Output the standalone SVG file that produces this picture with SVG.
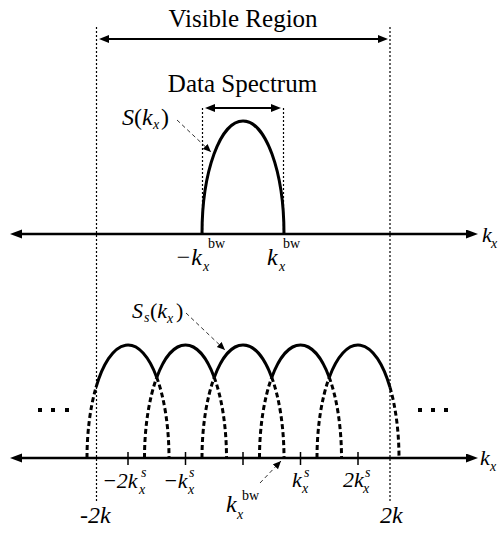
<svg xmlns="http://www.w3.org/2000/svg" width="499" height="533" viewBox="0 0 499 533">
<style>
.bg{fill:#fff}
.axis{stroke:#000;stroke-width:2.5;fill:none}
.dim{stroke:#000;stroke-width:2;fill:none}
.guide{stroke:#000;stroke-width:1.2;stroke-dasharray:2 2;fill:none}
.hump{stroke:#000;stroke-width:3;fill:none}
.hdash{stroke:#000;stroke-width:3;stroke-dasharray:5 3;fill:none}
.tick{stroke:#000;stroke-width:1.5}
.ptr{stroke:#333;stroke-width:1;stroke-dasharray:4 3;fill:none}
text{font-family:'Liberation Serif','Times New Roman',serif;fill:#000}
.title{font-size:25px}
.m{font-style:italic;font-size:22px}
.l{font-size:24px}
.s{font-size:14px}
.up{font-style:normal}
</style>
<defs>
<marker id="ah" markerUnits="userSpaceOnUse" markerWidth="13" markerHeight="10" refX="3" refY="4.5" orient="auto-start-reverse" viewBox="0 0 13 10">
<path d="M0,0 L12,4.5 L0,9 z" fill="#000"/>
</marker>
<marker id="ahs" markerUnits="userSpaceOnUse" markerWidth="11" markerHeight="9" refX="3" refY="4" orient="auto-start-reverse" viewBox="0 0 11 9">
<path d="M0,0 L10,4 L0,8 z" fill="#000"/>
</marker>
<marker id="ptrh" markerUnits="userSpaceOnUse" markerWidth="9" markerHeight="8" refX="8" refY="3.5" orient="auto" viewBox="0 0 9 8">
<path d="M0,0 L8,3.5 L0,7 z" fill="#000"/>
</marker>
</defs>
<rect class="bg" x="0" y="0" width="499" height="533"/>

<g id="connectors">
<line class="guide" x1="96.5" y1="27" x2="96.5" y2="502"/>
<line class="guide" x1="390" y1="27" x2="390" y2="502"/>
<line class="guide" x1="202.5" y1="108" x2="202.5" y2="234"/>
<line class="guide" x1="283.5" y1="108" x2="283.5" y2="234"/>
<line class="dim" x1="106" y1="39" x2="381" y2="39" marker-start="url(#ahs)" marker-end="url(#ahs)"/>
<line class="dim" x1="212" y1="108" x2="274" y2="108" marker-start="url(#ahs)" marker-end="url(#ahs)"/>
<line class="axis" x1="19" y1="234" x2="469" y2="234" marker-start="url(#ah)" marker-end="url(#ah)"/>
<line class="axis" x1="19" y1="458" x2="469" y2="458" marker-start="url(#ah)" marker-end="url(#ah)"/>
<path class="ptr" d="M177,120 L211,152" marker-end="url(#ptrh)"/>
<path class="ptr" d="M186,313 L225,350" marker-end="url(#ptrh)"/>
<path class="ptr" d="M260,483 L281,461" marker-end="url(#ptrh)"/>
</g>

<g id="ticks">
<line class="tick" x1="128" y1="452" x2="128" y2="465"/>
<line class="tick" x1="185.5" y1="452" x2="185.5" y2="465"/>
<line class="tick" x1="243" y1="452" x2="243" y2="465"/>
<line class="tick" x1="300.5" y1="452" x2="300.5" y2="465"/>
<line class="tick" x1="358" y1="452" x2="358" y2="465"/>
</g>

<g id="spectrum">
<path class="hump" d="M202,234 A41,113 0 0 1 284,234"/>
</g>

<g id="replicas">
<path class="hump" d="M96,387.4 A41,113 0 0 1 156.75,377.4"/>
<path class="hump" d="M156.75,377.4 A41,113 0 0 1 214.25,377.4"/>
<path class="hump" d="M214.25,377.4 A41,113 0 0 1 271.75,377.4"/>
<path class="hump" d="M271.75,377.4 A41,113 0 0 1 329.25,377.4"/>
<path class="hump" d="M329.25,377.4 A41,113 0 0 1 390,387.4"/>
<path class="hdash" d="M87,458 A41,113 0 0 1 96,387.4"/>
<path class="hdash" d="M156.75,377.4 A41,113 0 0 1 169,458"/>
<path class="hdash" d="M144.5,458 A41,113 0 0 1 156.75,377.4"/>
<path class="hdash" d="M214.25,377.4 A41,113 0 0 1 226.5,458"/>
<path class="hdash" d="M202,458 A41,113 0 0 1 214.25,377.4"/>
<path class="hdash" d="M271.75,377.4 A41,113 0 0 1 284,458"/>
<path class="hdash" d="M259.5,458 A41,113 0 0 1 271.75,377.4"/>
<path class="hdash" d="M329.25,377.4 A41,113 0 0 1 341.5,458"/>
<path class="hdash" d="M317,458 A41,113 0 0 1 329.25,377.4"/>
<path class="hdash" d="M390,387.4 A41,113 0 0 1 399,458"/>
</g>

<g id="ellipsis-left">
<rect x="38" y="408" width="4" height="4"/>
<rect x="51" y="408" width="4" height="4"/>
<rect x="65" y="408" width="4" height="4"/>
</g>
<g id="ellipsis-right">
<rect x="418" y="408" width="4" height="4"/>
<rect x="431" y="408" width="4" height="4"/>
<rect x="444" y="408" width="4" height="4"/>
</g>

<g id="label-visible"><text class="title" x="243" y="27" text-anchor="middle">Visible Region</text></g>
<g id="label-data"><text class="title" x="242.5" y="92" text-anchor="middle">Data Spectrum</text></g>

<g id="label-S">
<text class="m l"><tspan x="122" y="125">S</tspan><tspan class="up">(</tspan><tspan>k</tspan><tspan class="s" x="153" y="129">x</tspan><tspan class="up" x="161" y="125">)</tspan></text>
</g>
<g id="label-Ss">
<text class="m"><tspan x="132" y="318">S</tspan><tspan class="s" x="144" y="322">s</tspan><tspan class="up" x="150" y="318">(</tspan><tspan>k</tspan><tspan class="s" x="167" y="323">x</tspan><tspan class="up" x="176" y="318">)</tspan></text>
</g>

<g id="label-kx-top"><text class="m"><tspan x="482" y="242">k</tspan><tspan class="s" x="491" y="248">x</tspan></text></g>
<g id="label-kx-bottom"><text class="m"><tspan x="480" y="465">k</tspan><tspan class="s" x="490" y="471">x</tspan></text></g>

<g id="label-mkbw"><text class="m l"><tspan x="175" y="265">−k</tspan><tspan class="s up" x="208" y="248">bw</tspan><tspan class="s" x="203" y="271">x</tspan></text></g>
<g id="label-kbw"><text class="m l"><tspan x="267" y="265">k</tspan><tspan class="s up" x="283" y="248">bw</tspan><tspan class="s" x="279" y="271">x</tspan></text></g>

<g id="label-m2ks"><text class="m"><tspan x="102" y="488">−2k</tspan><tspan class="s" x="141" y="477">s</tspan><tspan class="s" x="139" y="494">x</tspan></text></g>
<g id="label-mks"><text class="m"><tspan x="163" y="488">−k</tspan><tspan class="s" x="189" y="477">s</tspan><tspan class="s" x="188" y="494">x</tspan></text></g>
<g id="label-kbw-low"><text class="m l"><tspan x="226" y="512">k</tspan><tspan class="s up" x="242" y="500">bw</tspan><tspan class="s" x="237" y="519">x</tspan></text></g>
<g id="label-ks"><text class="m"><tspan x="292" y="487">k</tspan><tspan class="s" x="304" y="477">s</tspan><tspan class="s" x="302" y="493">x</tspan></text></g>
<g id="label-2ks"><text class="m"><tspan x="343" y="487">2k</tspan><tspan class="s" x="365" y="477">s</tspan><tspan class="s" x="363" y="493">x</tspan></text></g>

<g id="label-m2k"><text class="m l" x="80" y="523">-2k</text></g>
<g id="label-2k"><text class="m l" x="380" y="523">2k</text></g>
</svg>
